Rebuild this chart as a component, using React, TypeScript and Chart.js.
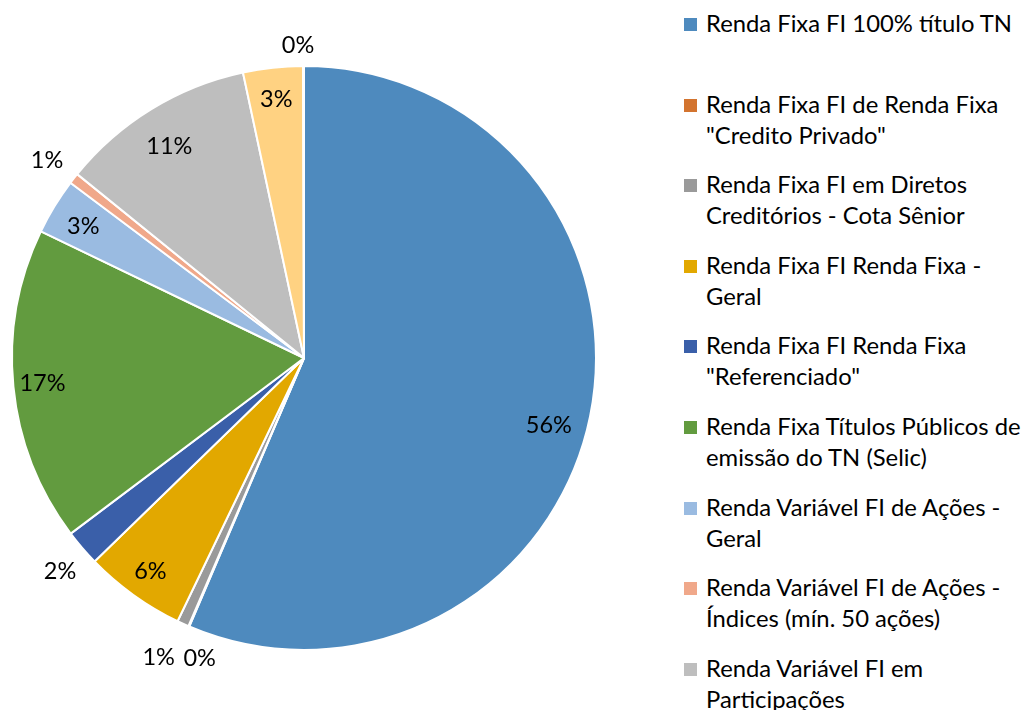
import React, { useEffect, useRef } from "react";
import { Chart, registerables } from "chart.js";

Chart.register(...registerables);

// ---- data ----
const categories: string[] = [
  "Renda Fixa FI 100% título TN",
  'Renda Fixa FI de Renda Fixa "Credito Privado"',
  "Renda Fixa FI em Diretos Creditórios - Cota Sênior",
  "Renda Fixa FI Renda Fixa - Geral",
  'Renda Fixa FI Renda Fixa "Referenciado"',
  "Renda Fixa Títulos Públicos de emissão do TN (Selic)",
  "Renda Variável FI de Ações - Geral",
  "Renda Variável FI de Ações - Índices (mín. 50 ações)",
  "Renda Variável FI em Participações",
  "Renda Variável FI Multimercado",
  "Outros",
];

const legendLines: string[][] = [
  ["Renda Fixa FI 100% título TN"],
  ["Renda Fixa FI de Renda Fixa", '"Credito Privado"'],
  ["Renda Fixa FI em Diretos", "Creditórios - Cota Sênior"],
  ["Renda Fixa FI Renda Fixa -", "Geral"],
  ["Renda Fixa FI Renda Fixa", '"Referenciado"'],
  ["Renda Fixa Títulos Públicos de", "emissão do TN (Selic)"],
  ["Renda Variável FI de Ações -", "Geral"],
  ["Renda Variável FI de Ações -", "Índices (mín. 50 ações)"],
  ["Renda Variável FI em", "Participações"],
  ["Renda Variável FI", "Multimercado"],
  ["Outros"],
];

const shares: number[] = [56.4, 0.05, 0.65, 5.6, 2.0, 17.4, 3.1, 0.6, 10.8, 3.3, 0.05];

const colors: string[] = [
  "#4E8ABE",
  "#D3742F",
  "#9A9A9A",
  "#E2A800",
  "#3A5FA9",
  "#629B3F",
  "#9ABBE1",
  "#F0A88A",
  "#BEBEBE",
  "#FFD282",
  "#4E8ABE",
];

// label placement style (radius factor, angle nudge in degrees)
const labelRadial: number[] = [0.87, 1.09, 1.14, 0.9, 1.11, 0.9, 0.88, 1.11, 0.86, 0.89, 1.07];
const labelNudge: number[] = [3.9, -4.1, 1.4, 0, -0.6, 0, -0.5, -0.4, -0.9, 0, -1];

const FONT = "Lato, 'Liberation Sans', sans-serif";

const labelPlugin = {
  id: "sliceLabels",
  afterDatasetsDraw(chart: any, _args: any, opts: any) {
    const ctx = chart.ctx;
    const meta = chart.getDatasetMeta(0);
    const data = chart.data.datasets[0].data as number[];
    const total = data.reduce((a, b) => a + b, 0);
    ctx.save();
    ctx.font = opts.font;
    ctx.fillStyle = opts.color;
    ctx.textAlign = "center";
    ctx.textBaseline = "middle";
    meta.data.forEach((arc: any, i: number) => {
      const p = arc.getProps(["x", "y", "startAngle", "endAngle", "outerRadius"], true);
      const mid = (p.startAngle + p.endAngle) / 2 + ((opts.nudge[i] || 0) * Math.PI) / 180;
      const r = p.outerRadius * opts.radial[i];
      const x = p.x + Math.cos(mid) * r;
      const y = p.y + Math.sin(mid) * r;
      ctx.fillText(Math.round((data[i] / total) * 100) + "%", x, y);
    });
    ctx.restore();
  },
};

export default function App() {
  const ref = useRef<HTMLCanvasElement | null>(null);

  useEffect(() => {
    if (!ref.current) return;
    const chart = new Chart(ref.current, {
      type: "pie",
      data: {
        labels: categories,
        datasets: [
          {
            data: shares,
            backgroundColor: colors,
            borderColor: "#FFFFFF",
            borderWidth: 2,
          },
        ],
      },
      options: {
        responsive: false,
        animation: false,
        layout: { padding: { left: 11, top: 65, right: 63, bottom: 59 } },
        plugins: {
          legend: { display: false },
          tooltip: { enabled: false },
          sliceLabels: {
            font: `23.5px ${FONT}`,
            color: "#000000",
            radial: labelRadial,
            nudge: labelNudge,
          },
        } as any,
      },
      plugins: [labelPlugin],
    });
    return () => chart.destroy();
  }, []);

  return (
    <div
      style={{
        position: "absolute",
        left: 0,
        top: 0,
        width: 1033,
        height: 710,
        overflow: "hidden",
        background: "#fff",
      }}
    >
      <canvas
        ref={ref}
        width={660}
        height={710}
        style={{ position: "absolute", left: 0, top: 0, width: 660, height: 710 }}
      />
      {legendLines.map((lines, i) => (
        <div
          key={i}
          style={{
            position: "absolute",
            left: 684,
            top: 8 + i * 80.6,
            fontFamily: FONT,
            fontSize: 23.8,
            lineHeight: "31px",
            color: "#000",
            whiteSpace: "nowrap",
          }}
        >
          <span
            style={{
              position: "absolute",
              left: 0,
              top: 10,
              width: 13,
              height: 13,
              background: colors[i],
            }}
          />
          <div style={{ marginLeft: 22 }}>
            {lines.map((l, j) => (
              <div key={j}>{l}</div>
            ))}
          </div>
        </div>
      ))}
    </div>
  );
}
